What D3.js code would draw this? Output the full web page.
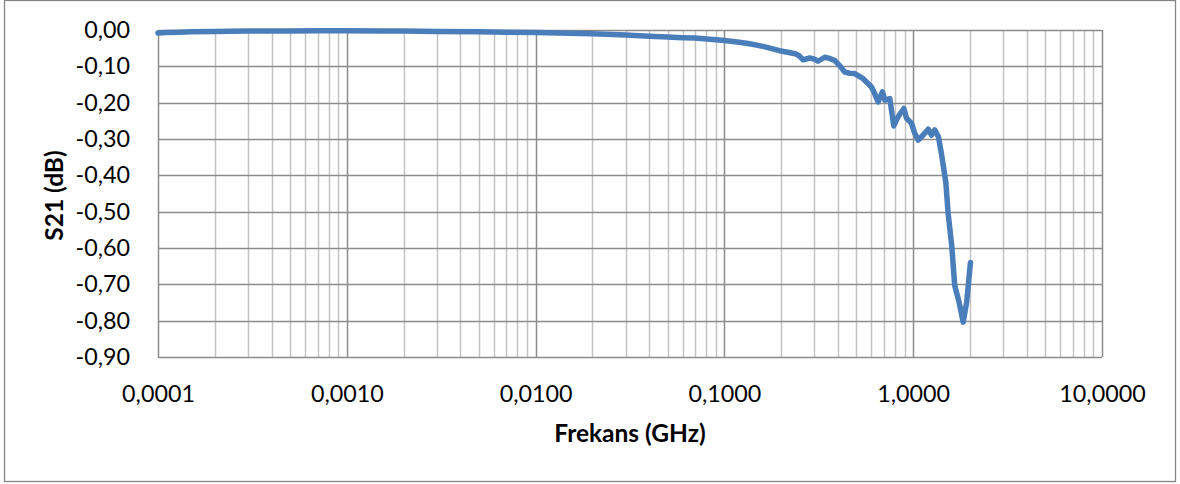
<!DOCTYPE html>
<html><head><meta charset="utf-8">
<script src="https://cdn.jsdelivr.net/npm/d3@7"></script>
<style>body{margin:0;background:#fff} text{font-family:Lato,"Open Sans",sans-serif;fill:#000}</style>
</head><body><svg id="c" width="1180" height="484"></svg>
<script>
const freqGHz = [0.0001,0.00011,0.00013,0.00015,0.0002,0.0003,0.0005,0.0007,0.001,0.0015,0.002,0.003,0.005,0.007,0.01,0.015,0.02,0.03,0.04,0.05,0.06,0.07,0.09,0.1,0.12,0.136,0.16,0.196,0.22,0.24,0.25,0.261,0.283,0.30,0.313,0.34,0.36,0.384,0.408,0.434,0.46,0.49,0.543,0.601,0.625,0.652,0.687,0.708,0.752,0.789,0.82,0.843,0.892,0.922,0.98,1.02,1.064,1.13,1.20,1.25,1.30,1.36,1.41,1.49,1.53,1.60,1.66,1.75,1.84,1.92,2.01];
const s21dB = [-0.008,-0.007,-0.006,-0.005,-0.004,-0.003,-0.003,-0.002,-0.002,-0.003,-0.003,-0.004,-0.005,-0.006,-0.007,-0.009,-0.010,-0.014,-0.017,-0.019,-0.021,-0.022,-0.027,-0.029,-0.034,-0.038,-0.045,-0.057,-0.062,-0.066,-0.072,-0.082,-0.077,-0.080,-0.086,-0.075,-0.078,-0.084,-0.098,-0.116,-0.119,-0.120,-0.134,-0.157,-0.175,-0.198,-0.170,-0.193,-0.189,-0.264,-0.245,-0.234,-0.216,-0.243,-0.257,-0.285,-0.303,-0.289,-0.273,-0.289,-0.275,-0.294,-0.339,-0.421,-0.503,-0.594,-0.704,-0.749,-0.804,-0.749,-0.640];
const yTicks = [0,-0.1,-0.2,-0.3,-0.4,-0.5,-0.6,-0.7,-0.8,-0.9];
const xTicks = [0.0001,0.001,0.01,0.1,1,10];
const xTitle = "Frekans (GHz)";
const yTitle = "S21 (dB)";

const loc = d3.formatLocale({decimal:",",thousands:".",grouping:[3],currency:["",""],minus:"-"});
const fy = loc.format(".2f"), fx = loc.format(".4f");

const svg = d3.select("#c");
const L=158, R=1102, T=30, B=357;
const x = d3.scaleLog().domain([0.0001,10]).range([L,R]);
const y = d3.scaleLinear().domain([0,-0.9]).range([T,B]);

svg.append("rect").attr("x",4.5).attr("y",0.5).attr("width",1171).attr("height",481)
  .attr("fill","#fff").attr("stroke","#868686").attr("stroke-width",1.3);

// minor vertical grid
const minor=[];
for(let d=0.0001; d<5; d*=10){ for(let k=2;k<=9;k++) minor.push(+(k*d).toPrecision(3)); }
svg.append("g").selectAll("line").data(minor).join("line")
  .attr("x1",d=>Math.round(x(d))+0.5).attr("x2",d=>Math.round(x(d))+0.5)
  .attr("y1",T).attr("y2",B).attr("stroke","#c3c3c3").attr("stroke-width",1.5);
// major vertical grid
svg.append("g").selectAll("line").data(xTicks).join("line")
  .attr("x1",d=>Math.round(x(d))+0.5).attr("x2",d=>Math.round(x(d))+0.5)
  .attr("y1",T).attr("y2",B).attr("stroke","#8c8c8c").attr("stroke-width",1.5);
// horizontal grid
svg.append("g").selectAll("line").data(yTicks).join("line")
  .attr("x1",L).attr("x2",R).attr("y1",d=>Math.round(y(d))+0.5).attr("y2",d=>Math.round(y(d))+0.5)
  .attr("stroke","#8c8c8c").attr("stroke-width",1.5);

// axes labels
const yAxis = d3.axisLeft(y).tickValues(yTicks).tickFormat(fy).tickSize(0).tickPadding(0);
const gy = svg.append("g").attr("transform",`translate(130,0)`).call(yAxis);
gy.select(".domain").remove();
gy.selectAll("text").attr("font-size",23.3).attr("fill","#000").style("font-family","Lato");

const xAxis = d3.axisBottom(x).tickValues(xTicks).tickFormat(fx).tickSize(0).tickPadding(0);
const gx = svg.append("g").attr("transform",`translate(0,385)`).call(xAxis);
gx.select(".domain").remove();
gx.selectAll("text").attr("font-size",23.3).attr("fill","#000").style("font-family","Lato");

// line
const line = d3.line().x((d,i)=>x(freqGHz[i])).y(d=>y(d));
svg.append("path").datum(s21dB).attr("d",line).attr("fill","none")
  .attr("stroke","#4A7EBB").attr("stroke-width",5.5).attr("stroke-linejoin","round").attr("stroke-linecap","round");

svg.append("text").attr("x",(L+R)/2).attr("y",442).attr("text-anchor","middle")
  .attr("font-size",24.5).attr("font-weight","bold").text(xTitle);
svg.append("text").attr("transform",`translate(63,195.5) rotate(-90)`).attr("text-anchor","middle")
  .attr("font-size",24.5).attr("font-weight","bold").text(yTitle);
</script></body></html>
